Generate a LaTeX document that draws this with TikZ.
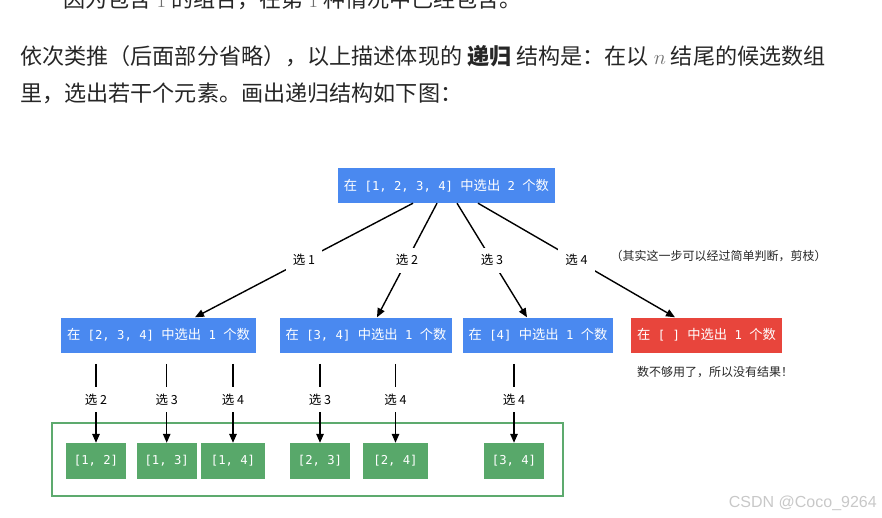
\documentclass[tikz,border=0pt]{standalone}
\usepackage{fontspec}
\setmainfont{Noto Sans CJK SC}
\setmonofont[Scale=0.92]{DejaVu Sans Mono}
\newfontfamily\markfont{Liberation Sans}
\usetikzlibrary{arrows.meta,positioning}
\definecolor{ink}{HTML}{262626}
\definecolor{mathgray}{HTML}{6E6E6E}
\definecolor{taskblue}{HTML}{4A89F0}
\definecolor{taskred}{HTML}{E8453C}
\definecolor{resgreen}{HTML}{58A86A}
\definecolor{framegreen}{HTML}{5DAA6E}
\definecolor{markgray}{HTML}{C8C8C8}
\tikzstyle{para}=[anchor=west,inner sep=0pt,text=ink,font=\fontsize{22.1}{26}\selectfont]
\tikzstyle{task}=[rectangle,fill=taskblue,text=white,minimum height=35pt,inner xsep=6pt,font=\fontsize{13.3}{15}\selectfont]
\tikzstyle{pruned}=[task,fill=taskred]
\tikzstyle{result}=[rectangle,fill=resgreen,text=white,minimum height=36pt,inner sep=0pt,font=\fontsize{13.3}{15}\selectfont\ttfamily]
\tikzstyle{edge}=[draw,line width=1.4pt,-{Triangle[length=9pt,width=7.5pt]}]
\tikzstyle{choice}=[fill=white,inner sep=7pt,text=black,font=\fontsize{12.5}{14}\selectfont]
\tikzstyle{note}=[anchor=west,inner sep=0pt,text=ink,font=\fontsize{12}{14}\selectfont]

\begin{document}
\begin{tikzpicture}[x=1pt,y=-1pt]
    \useasboundingbox (0,0) rectangle (882,518);
    % text above the figure
    \node[para] (prevline) at (63,-0.5) {因为包含 {\color{mathgray}$1$} 的组合，在第 {\color{mathgray}$1$} 种情况中已经包含。};
    \node[para] (para1) at (20,56.5) {依次类推（后面部分省略），以上描述体现的 \textbf{递归} 结构是：在以 {\color{mathgray}$n$} 结尾的候选数组};
    \node[para] (para2) at (20,93) {里，选出若干个元素。画出递归结构如下图：};

    % the recursion tree
    \node[task] (top) at (446.5,185.5) {在\texttt{ [1, 2, 3, 4] }中选出\texttt{ 2 }个数};
    \node[task] (b1) at (158.5,335) {在\texttt{ [2, 3, 4] }中选出\texttt{ 1 }个数};
    \node[task] (b2) at (366,335) {在\texttt{ [3, 4] }中选出\texttt{ 1 }个数};
    \node[task] (b3) at (538,335) {在\texttt{ [4] }中选出\texttt{ 1 }个数};
    \node[pruned] (red) at (706.5,335) {在\texttt{ [ ] }中选出\texttt{ 1 }个数};

    \foreach \dest/\off/\tip/\lbl in {b1/-33.5/36.5/选 1, b2/-9.5/11/选 2, b3/10.5/-11/选 3, red/31.5/-31.5/选 4}
        \draw[edge] ([xshift=\off pt]top.south) -- node[choice] {\lbl} ([xshift=\tip pt]\dest.north);

    \node[note] (prune) at (610.5,256.5) {（其实这一步可以经过简单判断，剪枝）};
    \node[note] (nomore) at (637,372) {数不够用了，所以没有结果！};

    % the results
    \draw[framegreen, line width=2pt] (52,422.5) rectangle (563,496);
    \foreach \pos/\name/\boxw/\txt in {{(96,461)/r12/60/{[1, 2]}}, {(166.7,461)/r13/60/{[1, 3]}}, {(233,461)/r14/64/{[1, 4]}},
                                     {(320,461)/r23/60/{[2, 3]}}, {(395.5,461)/r24/65/{[2, 4]}}, {(514,461)/r34/60/{[3, 4]}}}
        \node[result, minimum width=\boxw pt] (\name) at \pos {\txt};

    \foreach \res/\lbl in {r12/选 2, r13/选 3, r14/选 4, r23/选 3, r24/选 4, r34/选 4} {
        \coordinate (\res-top) at ([yshift=79pt]\res.north);
        \draw[edge] (\res-top) -- node[choice, pos=0.45] {\lbl} (\res.north);
    }

    \node[anchor=east, inner sep=0pt, text=markgray, font=\markfont\fontsize{16}{18}\selectfont] (mark) at (877,503) {CSDN @Coco\_9264};
\end{tikzpicture}
\end{document}
